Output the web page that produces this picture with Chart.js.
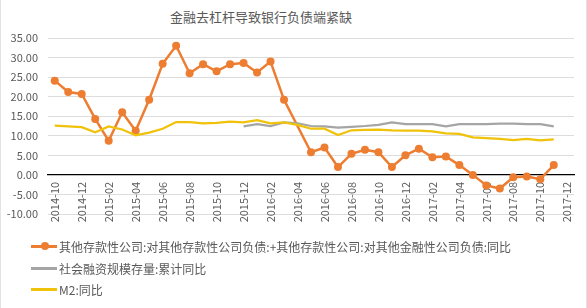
<!DOCTYPE html>
<html>
<head>
<meta charset="utf-8">
<script src="https://cdn.jsdelivr.net/npm/chart.js@4"></script>
<style>
  body { margin: 0; background: #fff; }
  #wrap { position: relative; width: 587px; height: 308px; box-sizing: border-box; border-left: 1px solid #e3e3e3; border-right: 1px solid #e3e3e3; }
  #title { position: absolute; top: 7px; left: 0; width: 520px; text-align: center; font: 13px "Noto Sans CJK SC", sans-serif; color: #595959; }
  #legend { position: absolute; top: 236px; left: 30px; font: 12px "Noto Sans CJK SC", sans-serif; color: #595959; }
  .item { display: flex; align-items: center; height: 21.5px; white-space: nowrap; }
  .swatch { position: relative; width: 26px; height: 3px; margin-right: 2px; }
  .dot { position: absolute; left: 9.5px; top: -3px; width: 8px; height: 8px; border-radius: 50%; }
  canvas { position: absolute; left: 0; top: 0; }
</style>
</head>
<body>
<div id="wrap">
  <div id="title">金融去杠杆导致银行负债端紧缺</div>
  <canvas id="chart" width="587" height="308"></canvas>
  <div id="legend"></div>
</div>
<script>
const months = ['2014-10', '2014-11', '2014-12', '2015-01', '2015-02', '2015-03', '2015-04', '2015-05', '2015-06', '2015-07',
  '2015-08', '2015-09', '2015-10', '2015-11', '2015-12', '2016-01', '2016-02', '2016-03', '2016-04', '2016-05',
  '2016-06', '2016-07', '2016-08', '2016-09', '2016-10', '2016-11', '2016-12', '2017-01', '2017-02', '2017-03',
  '2017-04', '2017-05', '2017-06', '2017-07', '2017-08', '2017-09', '2017-10', '2017-11', '2017-12'];

const interbankLiab = [24.1, 21.2, 20.7, 14.3, 8.7, 16.0, 11.3, 19.2, 28.4, 33.0,
  26.0, 28.3, 26.5, 28.3, 28.6, 26.2, 29.0, 19.2, null, 5.8,
  7.0, 2.0, 5.4, 6.4, 5.8, 2.0, 5.0, 6.7, 4.5, 4.7,
  2.5, 0.0, -2.7, -3.5, -0.6, -0.4, -1.1, 2.5];

const socialFinancing = [null, null, null, null, null, null, null, null, null, null,
  null, null, null, null, 12.4, 13.0, 12.5, 13.4, 13.2, 12.5,
  12.4, 12.1, 12.3, 12.5, 12.8, 13.4, 13.0, 13.0, 13.0, 12.4,
  13.0, 13.0, 13.0, 13.1, 13.1, 13.0, 13.0, 12.4];

const m2 = [12.6, 12.4, 12.2, 10.9, 12.4, 11.6, 10.1, 10.8, 11.8, 13.5,
  13.5, 13.2, 13.3, 13.6, 13.4, 14.0, 13.2, 13.4, 12.8, 11.8,
  11.8, 10.2, 11.4, 11.5, 11.6, 11.4, 11.3, 11.3, 11.1, 10.6,
  10.5, 9.6, 9.4, 9.2, 8.9, 9.2, 8.8, 9.1];

const seriesNames = ['其他存款性公司:对其他存款性公司负债:+其他存款性公司:对其他金融性公司负债:同比', '社会融资规模存量:累计同比', 'M2:同比'];
const yTicks = [-10, -5, 0, 5, 10, 15, 20, 25, 30, 35];

const textColor = '#595959';

const chart = new Chart(document.getElementById('chart'), {
  type: 'line',
  data: {
    labels: months,
    datasets: [{
      label: seriesNames[0],
      data: interbankLiab,
      borderColor: '#ED7D31',
      backgroundColor: '#ED7D31',
      borderWidth: 2.5,
      pointRadius: 4,
      pointBorderWidth: 0,
      spanGaps: true,
      order: 3
    }, {
      label: seriesNames[1],
      data: socialFinancing,
      borderColor: '#A5A5A5',
      backgroundColor: '#A5A5A5',
      borderWidth: 2.25,
      pointRadius: 0,
      order: 2
    }, {
      label: seriesNames[2],
      data: m2,
      borderColor: '#F0C20A',
      backgroundColor: '#F0C20A',
      borderWidth: 2.25,
      pointRadius: 0,
      order: 1
    }]
  },
  options: {
    responsive: false,
    animation: false,
    layout: { padding: { top: 38, bottom: 94, left: 0, right: 14 } },
    plugins: {
      legend: { display: false },
      title: { display: false },
      tooltip: { enabled: false }
    },
    scales: {
      x: {
        position: { y: 0 },
        offset: true,
        grid: { display: false, drawTicks: false },
        border: { display: true, color: '#000', width: 1.2 },
        afterFit: s => { s.height = 0; },
        ticks: {
          autoSkip: false,
          minRotation: 90,
          maxRotation: 90,
          padding: 7,
          color: textColor,
          font: { family: '"Noto Sans CJK SC", sans-serif', size: 11 },
          callback: (v, i) => (i % 2 === 0 ? months[i] : '')
        }
      },
      y: {
        min: -10,
        max: 35,
        afterFit: s => { s.width = 47; },
        afterBuildTicks: s => { s.ticks = yTicks.map(v => ({ value: v })); },
        grid: { color: '#DDDDDD', drawTicks: false },
        border: { display: false },
        ticks: {
          padding: 10,
          color: textColor,
          font: { family: '"Noto Sans CJK SC", sans-serif', size: 11 },
          callback: v => v.toFixed(2)
        }
      }
    }
  }
});

// legend stacked one item per row, built from the datasets
const legendEl = document.getElementById('legend');
chart.data.datasets.forEach((ds, i) => {
  const row = document.createElement('div');
  row.className = 'item';
  const sw = document.createElement('span');
  sw.className = 'swatch';
  sw.style.background = ds.borderColor;
  if (ds.pointRadius > 0) {
    const dot = document.createElement('span');
    dot.className = 'dot';
    dot.style.background = ds.backgroundColor;
    sw.appendChild(dot);
  }
  row.appendChild(sw);
  const txt = document.createElement('span');
  txt.textContent = ds.label;
  row.appendChild(txt);
  legendEl.appendChild(row);
});
</script>
</body>
</html>
